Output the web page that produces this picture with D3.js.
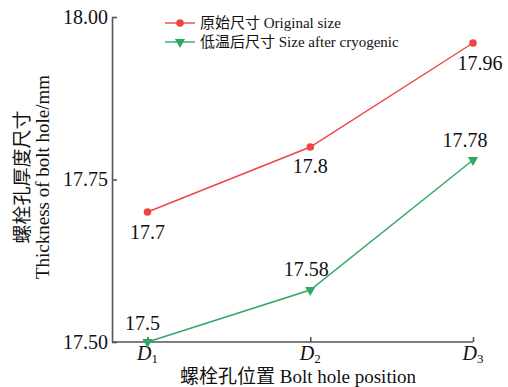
<!DOCTYPE html>
<html>
<head>
<meta charset="utf-8">
<script src="https://cdn.jsdelivr.net/npm/d3@7"></script>
<style>
  html, body { margin: 0; padding: 0; background: #fff; }
  svg { display: block; }
  svg text { font-family: "Liberation Serif", "Times New Roman", "Noto Sans CJK SC", serif !important; fill: #111; }
</style>
</head>
<body>
<svg id="chart" width="508" height="387"></svg>
<script>
// Bolt hole thickness before and after cryogenic treatment
const positions = ["1", "2", "3"];            // subscripts of D
const originalSize = [17.7, 17.8, 17.96];
const cryoSize = [17.5, 17.58, 17.78];
const yTicks = [17.50, 17.75, 18.00];
const seriesNames = ["原始尺寸 Original size", "低温后尺寸 Size after cryogenic"];
const seriesColors = ["#ef4444", "#2ea862"];

const svg = d3.select("#chart");
const plotLeft = 112, plotRight = 473, plotTop = 17, plotBottom = 342;

const x = d3.scalePoint().domain(positions).range([147.5, 473]);
const y = d3.scaleLinear().domain([17.5, 18.0]).range([plotBottom, plotTop]);

const axisColor = "#555";

// y axis with inward ticks
const yAxis = svg.append("g").attr("transform", `translate(${plotLeft},0)`)
  .call(d3.axisLeft(y).tickValues(yTicks).tickFormat(d3.format(".2f")).tickSizeInner(-5).tickSizeOuter(0).tickPadding(4));
// x axis with inward ticks
const xAxis = svg.append("g").attr("transform", `translate(0,${plotBottom})`)
  .call(d3.axisBottom(x).tickSizeInner(-5).tickSizeOuter(0).tickFormat(() => ""));
xAxis.select(".domain").attr("d", `M${plotLeft},0H${plotRight}`);
svg.selectAll(".domain, .tick line").attr("stroke", axisColor).attr("stroke-width", 1.6);
yAxis.selectAll("text").attr("font-size", 20).attr("fill", "#111");

// x tick labels: italic D with subscript
positions.forEach(p => {
  const t = svg.append("text").attr("x", x(p)).attr("y", 360)
    .attr("text-anchor", "middle").attr("font-size", 20);
  t.append("tspan").attr("font-style", "italic").text("D");
  t.append("tspan").attr("font-size", 13).attr("dy", 3).text(p);
});

// axis titles
svg.append("text").attr("x", 298).attr("y", 383).attr("text-anchor", "middle")
  .attr("font-size", 19).text("螺栓孔位置 Bolt hole position");
svg.append("text").attr("transform", "translate(29,177) rotate(-90)")
  .attr("text-anchor", "middle").attr("font-size", 19).text("螺栓孔厚度尺寸");
svg.append("text").attr("transform", "translate(49,177) rotate(-90)")
  .attr("text-anchor", "middle").attr("font-size", 19).text("Thickness of bolt hole/mm");

const line = d3.line().x((d, i) => x(positions[i])).y(d => y(d));
const tri = d3.symbol().type(d3.symbolTriangle).size(45);

function drawSeries(data, color, marker) {
  svg.append("path").datum(data).attr("d", line)
    .attr("fill", "none").attr("stroke", color).attr("stroke-width", 1.4);
  data.forEach((v, i) => {
    const cx = x(positions[i]), cy = y(v);
    if (marker === "circle") {
      svg.append("circle").attr("cx", cx).attr("cy", cy).attr("r", 3.8).attr("fill", color);
    } else {
      svg.append("path").attr("d", tri).attr("fill", color)
        .attr("transform", `translate(${cx},${cy}) rotate(180)`);
    }
  });
}
drawSeries(originalSize, seriesColors[0], "circle");
drawSeries(cryoSize, seriesColors[1], "triangle");

// value labels
const fmt = v => String(v);
const redOffsets = [[0, 27], [0, 26], [7, 27]];
originalSize.forEach((v, i) => {
  svg.append("text").attr("x", x(positions[i]) + redOffsets[i][0]).attr("y", y(v) + redOffsets[i][1])
    .attr("text-anchor", "middle").attr("font-size", 20).text(fmt(v));
});
const greenOffsets = [[-5, -12], [-4, -14], [-8, -13]];
cryoSize.forEach((v, i) => {
  svg.append("text").attr("x", x(positions[i]) + greenOffsets[i][0]).attr("y", y(v) + greenOffsets[i][1])
    .attr("text-anchor", "middle").attr("font-size", 20).text(fmt(v));
});

// legend
seriesNames.forEach((name, i) => {
  const ly = 23 + i * 19;
  const g = svg.append("g");
  g.append("line").attr("x1", 165).attr("x2", 195).attr("y1", ly).attr("y2", ly)
    .attr("stroke", seriesColors[i]).attr("stroke-width", 1.4);
  if (i === 0) {
    g.append("circle").attr("cx", 180).attr("cy", ly).attr("r", 3.8).attr("fill", seriesColors[i]);
  } else {
    g.append("path").attr("d", tri).attr("fill", seriesColors[i])
      .attr("transform", `translate(180,${ly}) rotate(180)`);
  }
  g.append("text").attr("x", 200).attr("y", ly + 5).attr("font-size", 15).text(name);
});
</script>
</body>
</html>
